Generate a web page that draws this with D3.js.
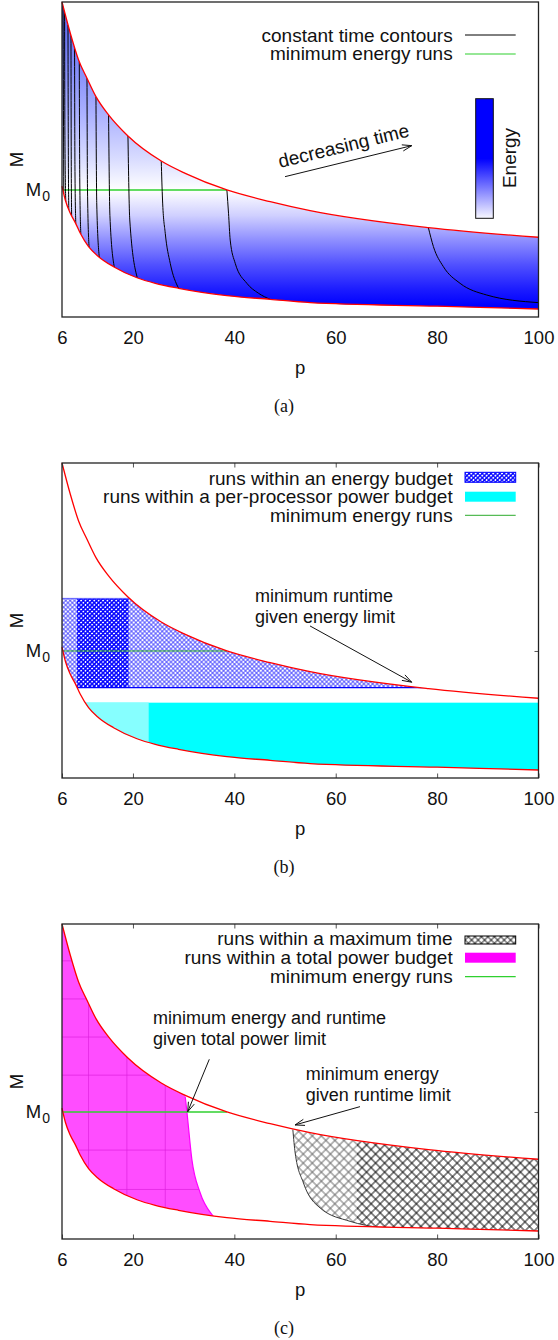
<!DOCTYPE html>
<html><head><meta charset="utf-8">
<script src="https://cdn.jsdelivr.net/npm/d3@7"></script>
<style>
body{margin:0;background:#fff}
svg{display:block}
text{fill:#111}
</style>
</head><body>
<svg id="c" width="558" height="1340"></svg>
<script>
// ---------- data ----------
const pTicks = [6, 20, 40, 60, 80, 100];
const M0 = 1.0;
const upperP = [6, 7.64, 9.27, 10.93, 12.70, 15.19, 19.01, 25.58, 30.31, 38.53, 47.07, 54.95, 78.28, 100];
const upperM = [2.48, 2.234, 2.024, 1.880, 1.735, 1.591, 1.425, 1.228, 1.131, 1.000, 0.908, 0.837, 0.703, 0.628];
const lowerP = [6, 6.65, 7.64, 8.62, 9.61, 11.24, 13.22, 16.17, 20.79, 24.40, 28.99, 38.53, 47.07, 54.95, 80, 100];
const lowerM = [1.03, 0.921, 0.817, 0.743, 0.659, 0.554, 0.475, 0.396, 0.309, 0.265, 0.226, 0.168, 0.139, 0.113, 0.085, 0.063];

// constant time contours (panel a): [p, M] pairs
const contours = [
  [[6.2, 2.45], [6.3, 1.5], [6.35, 0.97]],
  [[6.51, 2.41], [6.58, 1.4], [6.75, 0.906]],
  [[7.18, 2.30], [7.24, 1.4], [7.34, 0.843]],
  [[7.77, 2.22], [7.82, 1.3], [7.9, 0.795]],
  [[8.48, 2.12], [8.55, 1.2], [8.72, 0.736]],
  [[9.41, 2.01], [9.5, 1.1], [9.71, 0.654]],
  [[10.93, 1.88], [11.03, 1.0], [11.34, 0.549]],
  [[12.70, 1.735], [12.85, 0.9], [13.35, 0.472]],
  [[15.19, 1.591], [15.45, 0.8], [16.31, 0.394]],
  [[19.01, 1.425], [19.37, 0.764], [20.85, 0.309]],
  [[25.58, 1.228], [25.83, 0.921], [26.37, 0.659], [27.35, 0.423], [28.99, 0.226]],
  [[38.53, 1.0], [38.85, 0.817], [39.18, 0.606], [40.17, 0.423], [42.47, 0.265], [44.76, 0.187], [47.07, 0.139]],
  [[78.28, 0.703], [79.27, 0.554], [81.24, 0.396], [84.53, 0.265], [89.79, 0.173], [100, 0.113]]
];
// energy colour along M (panel a)
const energyM = [2.48, 2.0, 1.6, 1.25, 1.0, 0.8, 0.61, 0.41, 0.21, 0.09, 0];
const energyC = ["#5560ee", "#7f88f8", "#abb1ff", "#d8dbff", "#ffffff", "#d0d0ff", "#9090ff", "#5050ff", "#1a1aff", "#0000ff", "#0000ff"];

// panel b budgets
const energyBudgetTop = 1.414, energyBudgetBottom = 0.711;
const denseP = [8.96, 19.13];
const powerBudgetTop = 0.593;
const lightCyanP = 23.1;

// panel c
const magP = [30.31, 30.64, 31.63, 33.27, 35.89, 38.0];
const magM = [1.12, 1.002, 0.623, 0.362, 0.176, 0.08];
const timeP = [51.54, 52.0, 53.63, 56.93, 62.84, 68.76, 75];
const timeM = [0.861, 0.677, 0.441, 0.244, 0.139, 0.089, 0.06];
const grayBlackSplitP = 64.2;
const magGridP = [11.24, 18.8, 26.37];
const magGridM = [2.19, 1.89, 1.59, 1.29, 0.70, 0.39];

// ---------- layout ----------
const SANS = "'Liberation Sans',Arial,Helvetica,sans-serif";
const SERIF = "'Liberation Serif','Times New Roman',serif";
const svg = d3.select("#c").style("font-family", SANS);
const defs = svg.append("defs");
const L = 62, R = 538.5, H = 315;
const tops = [2, 463, 924];
const FS = 19, TFS = 18.5, NFS = 18;
const green = "#2fd02f";

function hatch(id, s, color, w) {
  const p = defs.append("pattern").attr("id", id).attr("patternUnits", "userSpaceOnUse")
    .attr("width", s).attr("height", s).attr("patternTransform", "rotate(45)");
  p.append("path").attr("d", `M0,0H${s}M0,0V${s}`).attr("stroke", color).attr("stroke-width", w).attr("fill", "none");
  p.append("path").attr("d", `M0,${s}H${s}M${s},0V${s}`).attr("stroke", color).attr("stroke-width", w).attr("fill", "none");
}
hatch("hbLight", 3.1, "#3030ff", 0.75);
hatch("hbDark", 3.1, "#0000ff", 1.35);
hatch("hkGray", 6.4, "#666", 0.9);
hatch("hkBlack", 6.4, "#000", 0.9);
hatch("hkLeg", 4.6, "#000", 0.8);

let uid = 0;
function panel(top) {
  const x = d3.scaleLinear().domain([6, 100]).range([L, R]);
  const y = d3.scaleLinear().domain([0, 2.48]).range([top + H, top]);
  const g = svg.append("g");
  const up = upperP.map((p, i) => [p, upperM[i]]);
  const lo = lowerP.map((p, i) => [p, lowerM[i]]);
  const line = d3.line().x(d => x(d[0])).y(d => y(d[1])).curve(d3.curveMonotoneX);
  const id = ++uid;
  defs.append("clipPath").attr("id", "cu" + id).append("path")
    .attr("d", d3.area().x(d => x(d[0])).y0(y(0)).y1(d => y(d[1])).curve(d3.curveMonotoneX)(up));
  defs.append("clipPath").attr("id", "cl" + id).append("path")
    .attr("d", d3.area().x(d => x(d[0])).y0(y(2.48)).y1(d => y(d[1])).curve(d3.curveMonotoneX)(lo));
  defs.append("clipPath").attr("id", "cf" + id).append("rect")
    .attr("x", L).attr("y", top).attr("width", R - L).attr("height", H);
  const inner = g.append("g").attr("clip-path", `url(#cf${id})`)
    .append("g").attr("clip-path", `url(#cu${id})`)
    .append("g").attr("clip-path", `url(#cl${id})`);
  return {x, y, g, inner, up, lo, line, top, id};
}

function axes(P, ticks) {
  const {x, y, g, top} = P;
  const bottom = top + H;
  if (ticks) {
    g.append("g").attr("transform", `translate(0,${bottom})`)
      .call(d3.axisBottom(x).tickValues(pTicks).tickSize(-4.5).tickFormat(""))
      .call(a => a.select(".domain").remove())
      .call(a => a.selectAll("line").attr("stroke", "#555"));
    g.append("g").attr("transform", `translate(0,${top})`)
      .call(d3.axisTop(x).tickValues(pTicks).tickSize(-4.5).tickFormat(""))
      .call(a => a.select(".domain").remove())
      .call(a => a.selectAll("line").attr("stroke", "#555"));
    g.append("g").attr("transform", `translate(${R},0)`)
      .call(d3.axisRight(y).tickValues([M0]).tickSize(-4).tickFormat(""))
      .call(a => a.select(".domain").remove())
      .call(a => a.selectAll("line").attr("stroke", "#555"));
  }
  const xl = g.append("g").attr("transform", `translate(0,${bottom})`)
    .call(d3.axisBottom(x).tickValues(pTicks).tickSize(0).tickPadding(14).tickFormat(d3.format("d")));
  xl.select(".domain").remove();
  xl.selectAll("text").attr("font-size", TFS).attr("font-family", null).attr("fill", "#111");
  const yl = g.append("g").attr("transform", `translate(${L},0)`)
    .call(d3.axisLeft(y).tickValues([M0]).tickSize(0).tickPadding(12).tickFormat(() => "M"));
  yl.select(".domain").remove();
  yl.selectAll("text").attr("font-size", TFS).attr("font-family", null).attr("fill", "#111")
    .attr("dy", "0.3em")
    .append("tspan").attr("font-size", 14).attr("dy", 5).attr("dx", 1).text("0");
  yl.selectAll("text").attr("x", -12).attr("text-anchor", "end");
  g.append("text").attr("x", (L + R) / 2).attr("y", bottom + 57).attr("text-anchor", "middle")
    .attr("font-size", TFS).text("p");
  g.append("text").attr("transform", `translate(23,${top + H / 2}) rotate(-90)`).attr("text-anchor", "middle")
    .attr("font-size", TFS).text("M");
}

function frame(P) {
  P.g.append("rect").attr("x", L).attr("y", P.top).attr("width", R - L).attr("height", H)
    .attr("fill", "none").attr("stroke", "#222").attr("stroke-width", 1.3);
}
function curves(P) {
  P.g.append("path").attr("d", P.line(P.up)).attr("fill", "none").attr("stroke", "#f00").attr("stroke-width", 1.3);
  P.g.append("path").attr("d", P.line(P.lo)).attr("fill", "none").attr("stroke", "#f00").attr("stroke-width", 1.3);
}
function caption(P, s) {
  svg.append("text").attr("x", 284).attr("y", P.top + H + 95).attr("text-anchor", "middle")
    .style("font-family", SERIF).attr("font-size", 18).text(s);
}
function arrow(g, x1, y1, x2, y2) {
  const a = Math.atan2(y2 - y1, x2 - x1), hl = 10, ha = 0.32;
  g.append("path").attr("d",
    `M${x1},${y1}L${x2},${y2}M${x2 - hl * Math.cos(a - ha)},${y2 - hl * Math.sin(a - ha)}L${x2},${y2}L${x2 - hl * Math.cos(a + ha)},${y2 - hl * Math.sin(a + ha)}`)
    .attr("fill", "none").attr("stroke", "#111").attr("stroke-width", 1);
}
function legendText(g, yb, s) {
  g.append("text").attr("x", 452.7).attr("y", yb).attr("text-anchor", "end").attr("font-size", FS).text(s);
}
// two-line annotation
function note(g, x0, y1, y2, l1, l2) {
  g.append("text").attr("font-size", NFS).attr("x", x0).attr("y", y1 - 1).text(l1);
  g.append("text").attr("font-size", NFS).attr("x", x0).attr("y", y2 + 1.5).text(l2);
}

// ================= panel (a) =================
{
  const P = panel(tops[0]);
  const {x, y, inner, g} = P;
  const gr = defs.append("linearGradient").attr("id", "eg").attr("gradientUnits", "userSpaceOnUse")
    .attr("x1", 0).attr("x2", 0).attr("y1", y(2.48)).attr("y2", y(0));
  energyM.forEach((m, i) => gr.append("stop").attr("offset", (2.48 - m) / 2.48).attr("stop-color", energyC[i]));
  inner.append("rect").attr("x", L).attr("y", P.top).attr("width", R - L).attr("height", H).attr("fill", "url(#eg)");
  inner.append("line").attr("x1", x(6)).attr("x2", x(38.53)).attr("y1", y(M0)).attr("y2", y(M0))
    .attr("stroke", green).attr("stroke-width", 1.3);
  inner.selectAll("path.ct").data(contours).join("path").attr("class", "ct")
    .attr("d", d => P.line(d)).attr("fill", "none").attr("stroke", "#000").attr("stroke-width", 1);
  curves(P);
  axes(P, false);
  frame(P);
  legendText(g, 41.5, "constant time contours");
  legendText(g, 60, "minimum energy runs");
  g.append("line").attr("x1", 465).attr("x2", 515.7).attr("y1", 35).attr("y2", 35).attr("stroke", "#000");
  g.append("line").attr("x1", 465).attr("x2", 515.7).attr("y1", 54).attr("y2", 54).attr("stroke", green).attr("stroke-width", 1.2);
  const cb = defs.append("linearGradient").attr("id", "cbg").attr("x1", 0).attr("x2", 0).attr("y1", 0).attr("y2", 1);
  cb.append("stop").attr("offset", 0).attr("stop-color", "#0000ff");
  cb.append("stop").attr("offset", 0.5).attr("stop-color", "#0000ff");
  cb.append("stop").attr("offset", 1).attr("stop-color", "#f8f8ff");
  g.append("rect").attr("x", 475.7).attr("y", 98.7).attr("width", 17.6).attr("height", 119.6)
    .attr("fill", "url(#cbg)").attr("stroke", "#111").attr("stroke-width", 1);
  g.append("text").attr("transform", "translate(516,158) rotate(-90)").attr("text-anchor", "middle")
    .attr("font-size", FS).text("Energy");
  const ax1 = x(50.0), ay1 = y(1.105), ax2 = x(75.0), ay2 = y(1.349);
  arrow(g, ax1, ay1, ax2, ay2);
  const ang = Math.atan2(ay2 - ay1, ax2 - ax1) * 180 / Math.PI;
  g.append("text").attr("transform", `translate(${x(49.0)},${y(1.173)}) rotate(${ang})`)
    .attr("font-size", FS).text("decreasing time");
  caption(P, "(a)");
}

// ================= panel (b) =================
{
  const P = panel(tops[1]);
  const {x, y, inner, g} = P;
  inner.append("rect").attr("x", L).attr("y", y(powerBudgetTop)).attr("width", R - L)
    .attr("height", y(0) - y(powerBudgetTop)).attr("fill", "#00ffff");
  inner.append("rect").attr("x", L).attr("y", y(powerBudgetTop)).attr("width", x(lightCyanP) - L)
    .attr("height", y(0) - y(powerBudgetTop)).attr("fill", "#86ffff");
  inner.append("rect").attr("x", L).attr("y", y(energyBudgetTop)).attr("width", R - L)
    .attr("height", y(energyBudgetBottom) - y(energyBudgetTop)).attr("fill", "url(#hbLight)");
  inner.append("rect").attr("x", x(denseP[0])).attr("y", y(energyBudgetTop)).attr("width", x(denseP[1]) - x(denseP[0]))
    .attr("height", y(energyBudgetBottom) - y(energyBudgetTop)).attr("fill", "url(#hbDark)");
  inner.append("line").attr("x1", L).attr("x2", R).attr("y1", y(energyBudgetTop)).attr("y2", y(energyBudgetTop))
    .attr("stroke", "#6060ff").attr("stroke-width", 1);
  inner.append("line").attr("x1", L).attr("x2", R).attr("y1", y(energyBudgetBottom)).attr("y2", y(energyBudgetBottom))
    .attr("stroke", "#0000ff").attr("stroke-width", 1.3);
  inner.append("line").attr("x1", x(6)).attr("x2", x(38.53)).attr("y1", y(M0)).attr("y2", y(M0))
    .attr("stroke", "#2caa2c").attr("stroke-width", 1);
  curves(P);
  axes(P, true);
  frame(P);
  legendText(g, 484.5, "runs within an energy budget");
  legendText(g, 503, "runs within a per-processor power budget");
  legendText(g, 521.5, "minimum energy runs");
  g.append("rect").attr("x", 465).attr("y", 472.3).attr("width", 50.7).attr("height", 10)
    .attr("fill", "url(#hbDark)").attr("stroke", "#0000ff").attr("stroke-width", 1);
  g.append("rect").attr("x", 465).attr("y", 491.7).attr("width", 50.7).attr("height", 10).attr("fill", "#00ffff");
  g.append("line").attr("x1", 465).attr("x2", 515.7).attr("y1", 515.3).attr("y2", 515.3).attr("stroke", "#2caa2c");
  arrow(g, x(54.93), y(1.197), x(74.99), y(0.754));
  note(g, x(44.07), y(1.374), y(1.232), "minimum runtime", "given energy limit");
  caption(P, "(b)");
}

// ================= panel (c) =================
{
  const P = panel(tops[2]);
  const {x, y, inner, g} = P;
  const bl = d3.line().x(d => x(d[0])).y(d => y(d[1])).curve(d3.curveMonotoneX);
  const mag = magP.map((p, i) => [p, magM[i]]);
  const tim = timeP.map((p, i) => [p, timeM[i]]);
  const magPath = `M${x(6)},${y(2.6)}L${x(magP[0])},${y(2.6)}` + bl(mag).replace(/^M/, "L") +
    `L${x(magP[magP.length - 1])},${y(0)}L${x(6)},${y(0)}Z`;
  const timPath = `M${x(100)},${y(2.6)}L${x(timeP[0])},${y(2.6)}` + bl(tim).replace(/^M/, "L") +
    `L${x(timeP[timeP.length - 1])},${y(0)}L${x(100)},${y(0)}Z`;
  defs.append("clipPath").attr("id", "magc").append("path").attr("d", magPath);
  const mg = inner.append("g").attr("clip-path", "url(#magc)");
  mg.append("rect").attr("x", L).attr("y", P.top).attr("width", R - L).attr("height", H).attr("fill", "#ff4dff");
  mg.selectAll("line.v").data(magGridP).join("line").attr("class", "v")
    .attr("x1", d => x(d)).attr("x2", d => x(d)).attr("y1", P.top).attr("y2", P.top + H)
    .attr("stroke", "#dd22dd").attr("stroke-width", 1).attr("opacity", 0.7);
  mg.selectAll("line.h").data(magGridM).join("line").attr("class", "h")
    .attr("x1", L).attr("x2", R).attr("y1", d => y(d)).attr("y2", d => y(d))
    .attr("stroke", "#dd22dd").attr("stroke-width", 1).attr("opacity", 0.7);
  inner.append("path").attr("d", bl(mag)).attr("fill", "none").attr("stroke", "#ff00ff").attr("stroke-width", 1.2);
  defs.append("clipPath").attr("id", "timc").append("path").attr("d", timPath);
  const tg = inner.append("g").attr("clip-path", "url(#timc)");
  tg.append("rect").attr("x", x(timeP[0]) - 2).attr("y", P.top).attr("width", x(grayBlackSplitP) - x(timeP[0]) + 2)
    .attr("height", H).attr("fill", "url(#hkGray)");
  tg.append("rect").attr("x", x(grayBlackSplitP)).attr("y", P.top).attr("width", R - x(grayBlackSplitP))
    .attr("height", H).attr("fill", "url(#hkBlack)");
  inner.append("path").attr("d", bl(tim)).attr("fill", "none").attr("stroke", "#222").attr("stroke-width", 0.9);
  inner.append("line").attr("x1", x(6)).attr("x2", x(38.53)).attr("y1", y(M0)).attr("y2", y(M0))
    .attr("stroke", green).attr("stroke-width", 1.3);
  curves(P);
  axes(P, true);
  frame(P);
  legendText(g, 945, "runs within a maximum time");
  legendText(g, 964, "runs within a total power budget");
  legendText(g, 982.5, "minimum energy runs");
  g.append("rect").attr("x", 465).attr("y", 936).attr("width", 50.7).attr("height", 8)
    .attr("fill", "url(#hkLeg)").attr("stroke", "#000").attr("stroke-width", 1);
  g.append("rect").attr("x", 465).attr("y", 952.7).attr("width", 50.7).attr("height", 10).attr("fill", "#ff00ff");
  g.append("line").attr("x1", 465).attr("x2", 515.7).attr("y1", 976.7).attr("y2", 976.7).attr("stroke", green).attr("stroke-width", 1.2);
  arrow(g, x(35.06), y(1.415), x(30.80), y(1.002));
  note(g, x(23.95), y(1.685), y(1.539), "minimum energy and runtime", "given total power limit");
  arrow(g, x(64.79), y(1.042), x(51.97), y(0.898));
  note(g, x(54.08), y(1.244), y(1.102), "minimum energy", "given runtime limit");
  caption(P, "(c)");
}
</script>
</body></html>
